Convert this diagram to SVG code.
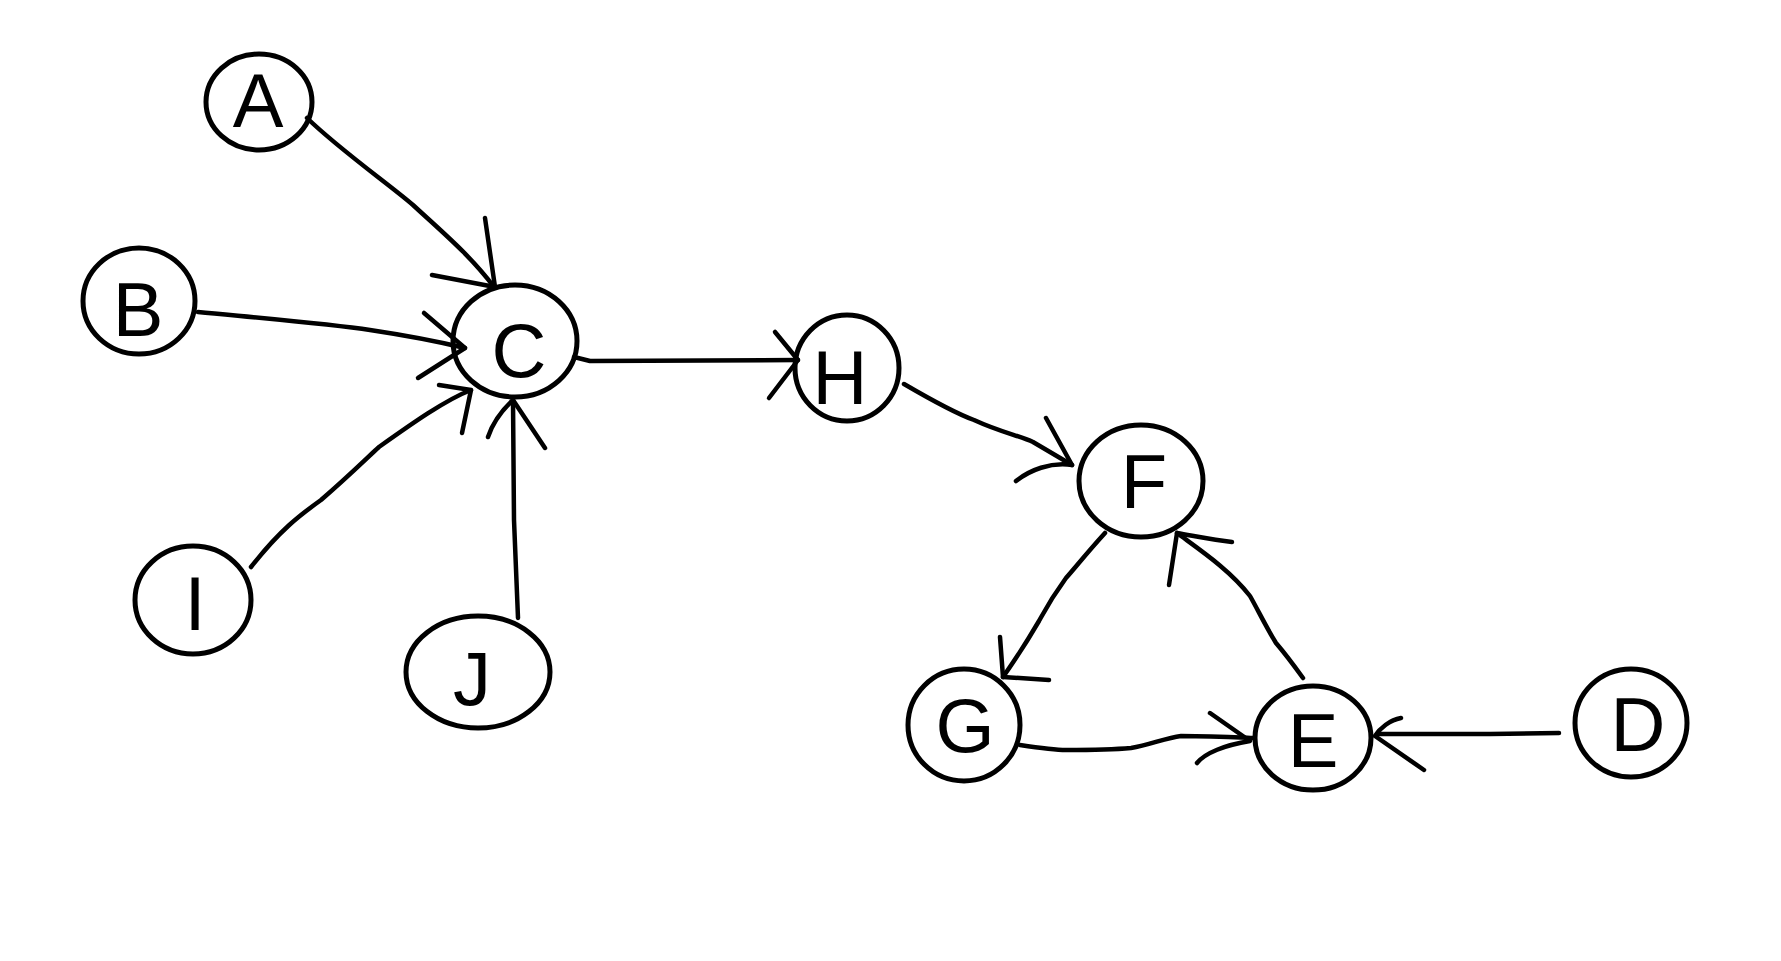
<svg xmlns="http://www.w3.org/2000/svg" width="1781" height="961" viewBox="0 0 1781 961">
<style>
.n{fill:none;stroke:#000;stroke-width:5}
.t{font-family:"Liberation Sans",Arial,sans-serif;font-size:76px;fill:#000;text-anchor:middle}
.e{fill:none;stroke:#000;stroke-width:4.5;stroke-linecap:round;stroke-linejoin:round}
</style>
<rect width="1781" height="961" fill="#fff"/>
<g id="connectors">
<path class="e" d="M307,118 C340,150 390,185 413,205 C440,230 470,255 494,287"/>
<path class="e" d="M485,218 L495,287 M432,275 L495,287"/>
<path class="e" d="M198,312 C260,318 330,324 370,330 C410,336 440,342 465,348"/>
<path class="e" d="M424,313 L465,348 L418,378"/>
<path class="e" d="M251,567 C280,530 300,515 321,500 C350,475 370,455 379,447 C410,425 445,400 471,390"/>
<path class="e" d="M439,385 L471,390 L462,433"/>
<path class="e" d="M518,618 L514,520 L513,400"/>
<path class="e" d="M488,437 C492,425 500,412 513,400 L545,448"/>
<path class="e" d="M574,357 L590,361 L798,360"/>
<path class="e" d="M775,332 L798,360 L769,398"/>
<path class="e" d="M904,384 C940,405 960,415 974,420 C1000,432 1020,436 1033,442 C1050,452 1060,458 1072,465"/>
<path class="e" d="M1046,418 L1072,465 C1050,462 1030,470 1016,481"/>
<path class="e" d="M1105,533 C1085,555 1075,568 1066,578 C1050,600 1045,610 1039,621 C1025,645 1015,660 1003,677"/>
<path class="e" d="M1000,637 L1003,677 L1049,680"/>
<path class="e" d="M1020,745 C1040,748 1055,750 1066,750 C1100,750 1120,749 1131,748 C1150,745 1165,738 1181,736 C1210,736 1230,737 1253,738"/>
<path class="e" d="M1210,713 L1250,741 C1225,745 1205,753 1197,763"/>
<path class="e" d="M1303,678 C1290,660 1282,650 1276,643 C1265,625 1258,610 1250,596 C1230,570 1200,550 1177,533"/>
<path class="e" d="M1169,585 L1177,533 C1200,537 1215,540 1232,542"/>
<path class="e" d="M1559,733 L1490,734 L1378,734"/>
<path class="e" d="M1401,718 C1390,720 1380,728 1375,736 L1424,770"/>
</g>
<g id="node-A"><ellipse class="n" cx="259" cy="102" rx="53" ry="48"/><text class="t" x="258" y="127">A</text></g>
<g id="node-B"><ellipse class="n" cx="139" cy="301" rx="56" ry="53"/><text class="t" x="138" y="336">B</text></g>
<g id="node-C"><ellipse class="n" cx="515" cy="341" rx="62" ry="56"/><text class="t" x="519" y="377">C</text></g>
<g id="node-H"><ellipse class="n" cx="847" cy="368" rx="52" ry="53"/><text class="t" x="840" y="404">H</text></g>
<g id="node-I"><ellipse class="n" cx="193" cy="600" rx="58" ry="54"/><text class="t" x="195" y="630">I</text></g>
<g id="node-J"><ellipse class="n" cx="478" cy="672" rx="72" ry="56"/><text class="t" x="472" y="705">J</text></g>
<g id="node-F"><ellipse class="n" cx="1141" cy="481" rx="62" ry="56"/><text class="t" x="1144" y="508">F</text></g>
<g id="node-G"><ellipse class="n" cx="964" cy="725" rx="56" ry="56"/><text class="t" x="965" y="752">G</text></g>
<g id="node-E"><ellipse class="n" cx="1313" cy="738" rx="58" ry="52"/><text class="t" x="1313" y="767">E</text></g>
<g id="node-D"><ellipse class="n" cx="1631" cy="723" rx="56" ry="54"/><text class="t" x="1638" y="751">D</text></g>
</svg>
